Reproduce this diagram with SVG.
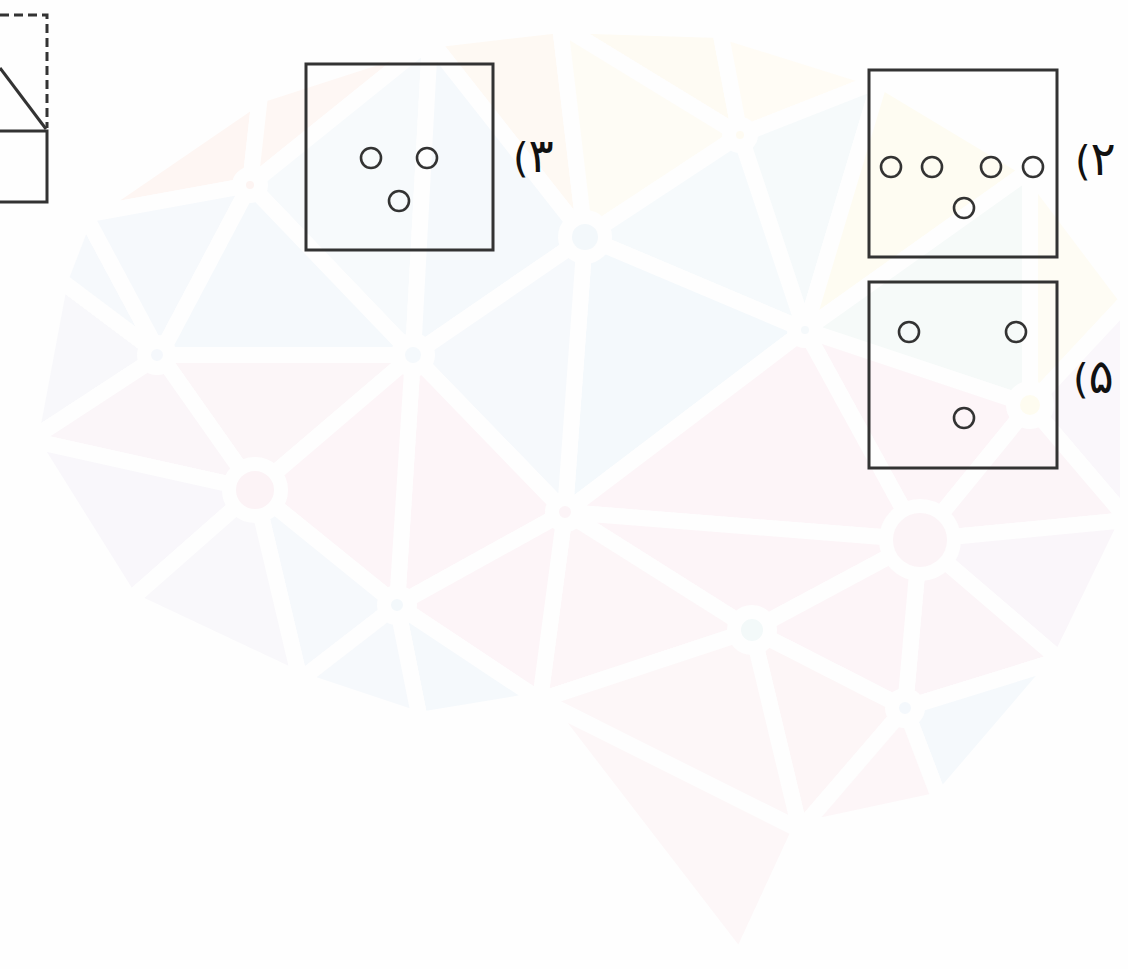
<svg xmlns="http://www.w3.org/2000/svg" width="1128" height="969" viewBox="0 0 1128 969">
<style>
.bg polygon{stroke:#fefefe;stroke-width:16;stroke-linejoin:round}
.ln{fill:none;stroke:#333333;stroke-width:3}
.dash{fill:none;stroke:#333333;stroke-width:3;stroke-dasharray:9 5}
.dot{fill:none;stroke:#333333;stroke-width:2.6}
.lbl{font-family:"DejaVu Sans",sans-serif;font-size:40px;fill:#111111}
.dg{font-size:47px}
</style>
<rect width="1128" height="969" fill="#fefefe"/>
<g id="watermark" class="bg">
<polygon points="30,440 60,280 160,355" fill="#f8f8fb"/>
<polygon points="60,280 85,215 160,355" fill="#f6f9fc"/>
<polygon points="85,215 260,95 250,185" fill="#fef6f3"/>
<polygon points="85,215 250,185 160,355" fill="#f6f9fc"/>
<polygon points="260,95 430,40 250,185" fill="#fef7f4"/>
<polygon points="250,185 430,40 413,355" fill="#f7fafc"/>
<polygon points="160,355 250,185 413,355" fill="#f5f9fc"/>
<polygon points="430,40 560,25 585,237" fill="#fef9f3"/>
<polygon points="430,40 585,237 413,355" fill="#f5f9fc"/>
<polygon points="560,25 720,30 740,135" fill="#fefbf3"/>
<polygon points="560,25 740,135 585,237" fill="#fefcf5"/>
<polygon points="720,30 880,80 740,135" fill="#fffcf5"/>
<polygon points="740,135 880,80 805,330" fill="#f6fafb"/>
<polygon points="740,135 805,330 585,237" fill="#f6fafc"/>
<polygon points="880,80 1030,170 805,330" fill="#fefcf2"/>
<polygon points="1030,170 1128,300 1030,405" fill="#fefcf4"/>
<polygon points="1030,170 1030,405 805,330" fill="#f6faf9"/>
<polygon points="585,237 805,330 565,512" fill="#f4f9fc"/>
<polygon points="585,237 565,512 413,355" fill="#f6f9fc"/>
<polygon points="160,355 413,355 255,490" fill="#fcf6f8"/>
<polygon points="30,440 160,355 255,490" fill="#fbf6f9"/>
<polygon points="30,440 255,490 130,600" fill="#f9f7fb"/>
<polygon points="413,355 565,512 397,605" fill="#fdf5f8"/>
<polygon points="413,355 397,605 255,490" fill="#fdf5f8"/>
<polygon points="255,490 397,605 300,680" fill="#f6f9fc"/>
<polygon points="255,490 300,680 130,600" fill="#f9f8fb"/>
<polygon points="805,330 1030,405 920,540" fill="#fdf5f8"/>
<polygon points="805,330 920,540 565,512" fill="#fdf5f8"/>
<polygon points="1030,405 1128,300 1128,520" fill="#faf7fb"/>
<polygon points="1030,405 1128,520 920,540" fill="#fcf5f8"/>
<polygon points="565,512 920,540 752,630" fill="#fdf5f8"/>
<polygon points="565,512 752,630 540,700" fill="#fdf6f8"/>
<polygon points="565,512 540,700 397,605" fill="#fdf5f8"/>
<polygon points="397,605 540,700 420,720" fill="#f5f9fc"/>
<polygon points="397,605 420,720 300,680" fill="#f6f9fc"/>
<polygon points="920,540 1128,520 1060,660" fill="#faf6fa"/>
<polygon points="920,540 1060,660 905,708" fill="#fcf5f8"/>
<polygon points="920,540 905,708 752,630" fill="#fdf5f8"/>
<polygon points="752,630 905,708 800,830" fill="#fdf6f7"/>
<polygon points="905,708 1060,660 940,800" fill="#f5f9fc"/>
<polygon points="905,708 940,800 800,830" fill="#fdf6f8"/>
<polygon points="540,700 752,630 800,830" fill="#fdf7f8"/>
<polygon points="540,700 800,830 740,960" fill="#fdf7f8"/>
<g stroke="#fefefe" stroke-width="14">
<circle cx="255" cy="490" r="26" fill="#fcf3f6"/>
<circle cx="920" cy="540" r="34" fill="#fcf4f7"/>
<circle cx="585" cy="237" r="20" fill="#f3f8fb"/>
<circle cx="413" cy="355" r="15" fill="#f5f9fc"/>
<circle cx="565" cy="512" r="13" fill="#fcf4f7"/>
<circle cx="397" cy="605" r="13" fill="#f3f8fb"/>
<circle cx="752" cy="630" r="18" fill="#f3f9f9"/>
<circle cx="905" cy="708" r="13" fill="#f4f8fc"/>
<circle cx="157" cy="355" r="13" fill="#f5f8fc"/>
<circle cx="250" cy="185" r="11" fill="#fdf4f2"/>
<circle cx="1030" cy="405" r="17" fill="#fefcf0"/>
<circle cx="740" cy="135" r="11" fill="#fefbf2"/>
<circle cx="805" cy="330" r="11" fill="#f5f9fb"/>
</g>
</g>
<g id="fig-left">
<polyline class="dash" points="0,15 47,15 47,128"/>
<line class="ln" x1="0" y1="68" x2="46" y2="129"/>
<polyline class="ln" points="0,131 47,131 47,202 0,202"/>
</g>
<g id="option-3">
<rect class="ln" x="306" y="64" width="187" height="186"/>
<circle class="dot" cx="371" cy="158" r="10"/>
<circle class="dot" cx="427" cy="158" r="10"/>
<circle class="dot" cx="399" cy="201" r="10"/>
<text class="lbl" x="513" y="172">(<tspan class="dg">۳</tspan></text>
</g>
<g id="option-2">
<rect class="ln" x="869" y="70" width="188" height="187"/>
<circle class="dot" cx="891" cy="167" r="10"/>
<circle class="dot" cx="932" cy="167" r="10"/>
<circle class="dot" cx="991" cy="167" r="10"/>
<circle class="dot" cx="1033" cy="167" r="10"/>
<circle class="dot" cx="964" cy="208" r="10"/>
<text class="lbl" x="1075" y="175">(<tspan class="dg">۲</tspan></text>
</g>
<g id="option-5">
<rect class="ln" x="869" y="282" width="188" height="186"/>
<circle class="dot" cx="909" cy="332" r="10"/>
<circle class="dot" cx="1016" cy="332" r="10"/>
<circle class="dot" cx="964" cy="418" r="10"/>
<text class="lbl" x="1073" y="393">(<tspan class="dg">۵</tspan></text>
</g>
</svg>
